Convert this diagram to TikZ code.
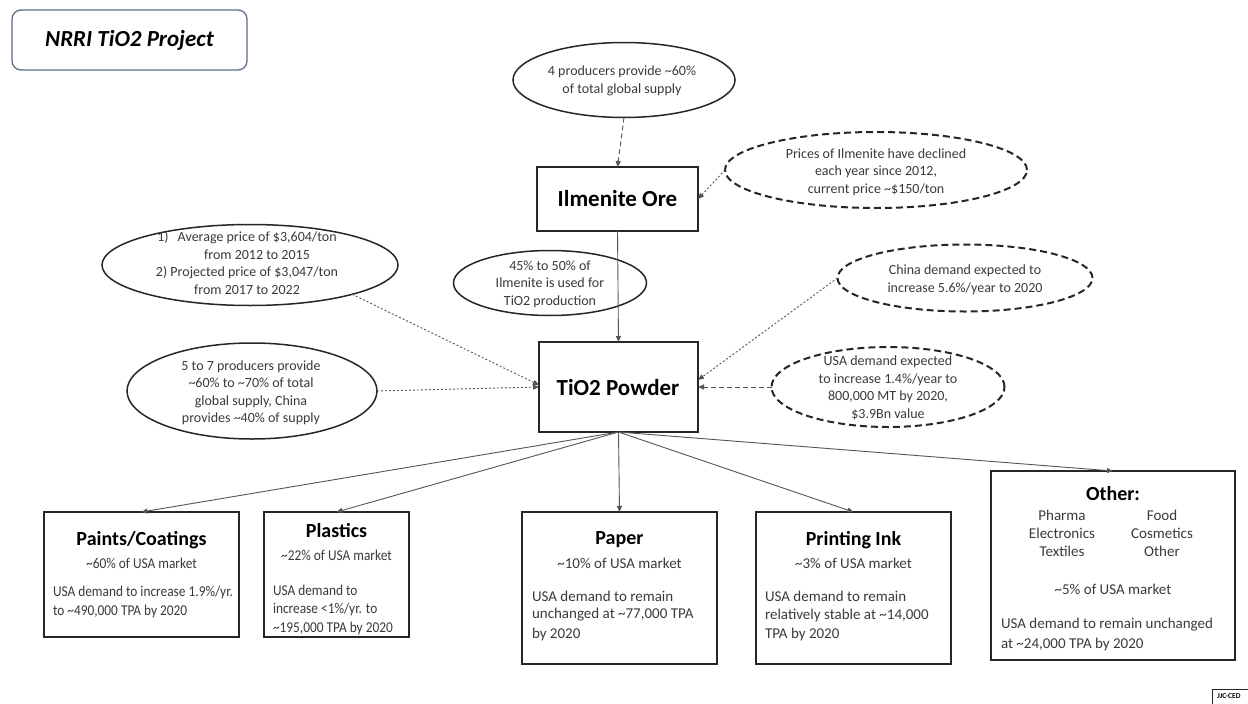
\documentclass[tikz,border=0pt]{standalone}
\usepackage{fontspec}
\setmainfont{Carlito}
\newfontfamily\condfont[FakeStretch=0.89]{Carlito}
\usetikzlibrary{shapes.geometric,arrows.meta}
\definecolor{ln}{HTML}{262626}
\definecolor{tx}{HTML}{3A3A3A}
\definecolor{cn}{HTML}{555555}
\definecolor{tb}{HTML}{5E6E88}
\begin{document}
\begin{tikzpicture}[x=1pt,y=-1pt,
 every node/.style={inner sep=0pt, outer sep=0pt},
 sm/.style={font=\fontsize{14}{17.5}\selectfont, text=tx, align=center},
 bt/.style={font=\fontsize{15}{19}\selectfont, text=tx, align=left, anchor=west},
 cbt/.style={font=\fontsize{15}{19}\condfont, text=tx, align=left, anchor=west},
 hd/.style={font=\fontsize{23}{27}\selectfont\bfseries, text=black},
 bxhd/.style={font=\fontsize{20}{24}\selectfont\bfseries, text=black},
 sub/.style={font=\fontsize{15}{18}\selectfont, text=tx},
 csub/.style={font=\fontsize{15}{18}\condfont, text=tx},
 oval/.style={ellipse, draw=ln, line width=1.5pt},
 dovl/.style={ellipse, draw=ln, line width=2pt, dash pattern=on 7pt off 4pt},
 box/.style={draw=ln, line width=1.6pt, anchor=north west},
 arr/.style={-{Triangle[length=6pt,width=5pt]}, draw=cn, line width=0.9pt},
 dashc/.style={arr, dash pattern=on 5pt off 3pt},
 dotc/.style={arr, dash pattern=on 2pt off 2pt},
]
\useasboundingbox (0,0) rectangle (1248,704);
\fill[white] (0,0) rectangle (1248,704);

% title
\node[draw=tb, line width=1.3pt, rounded corners=9pt, minimum width=235pt, minimum height=60pt, anchor=north west] (title) at (12,10) {};
\node[font=\fontsize{23}{27}\selectfont\bfseries\itshape] (titletxt) at (title) {NRRI TiO2 Project};

% central boxes
\node[box, minimum width=161pt, minimum height=64pt] (ore) at (537,167) {};
\node[hd] (oretxt) at (ore) {Ilmenite Ore};
\node[box, minimum width=159pt, minimum height=90pt] (tio) at (539,342) {};
\node[hd] (tiotxt) at (618,388) {TiO2 Powder};

% solid ellipses
\node[oval, minimum width=222pt, minimum height=75pt] (sup) at (624,80) {};
\node[sm] (suptxt) at (622,81) {4 producers provide \textasciitilde60\%\\of total global supply};

\node[oval, minimum width=193pt, minimum height=65pt] (ratio) at (550,283) {};
\node[sm] (ratiotxt) at (550,284) {45\% to 50\% of\\Ilmenite is used for\\TiO2 production};

\node[oval, minimum width=296pt, minimum height=81pt] (lt) at (250,265) {};
\node[sm] (lttxt) at (247,263) {1)\hspace{9pt}Average price of \$3,604/ton\\\hspace*{20pt}from 2012 to 2015\\2) Projected price of \$3,047/ton\\from 2017 to 2022};

\node[oval, minimum width=250pt, minimum height=96pt] (lb) at (252,391) {};
\node[sm] (lbtxt) at (251,393) {5 to 7 producers provide\\\textasciitilde60\% to \textasciitilde70\% of total\\global supply, China\\provides \textasciitilde40\% of supply};

% dashed ellipses
\node[dovl, minimum width=302pt, minimum height=76pt] (prices) at (876,170) {};
\node[sm] (pricestxt) at (876,172) {Prices of Ilmenite have declined\\each year since 2012,\\current price \textasciitilde\$150/ton};

\node[dovl, minimum width=255pt, minimum height=67pt] (china) at (965,278) {};
\node[sm] (chinatxt) at (965,280) {China demand expected to\\increase 5.6\%/year to 2020};

\node[dovl, minimum width=233pt, minimum height=80pt] (usa) at (888,387) {};
\node[sm] (usatxt) at (888,388) {USA demand expected\\to increase 1.4\%/year to\\800,000 MT by 2020,\\\$3.9Bn value};

% bottom boxes
\node[box, minimum width=195pt, minimum height=125pt] (paint) at (44,512) {};
\node[bxhd] (painth) at (141.5,540) {Paints/Coatings};
\node[csub] (paints) at (141.5,563) {\textasciitilde60\% of USA market};
\node[cbt] (paintb1) at (53,592) {USA demand to increase 1.9\%/yr.};
\node[cbt] (paintb2) at (53,611) {to \textasciitilde490,000 TPA by 2020};

\node[box, minimum width=145pt, minimum height=125pt] (plas) at (264,512) {};
\node[bxhd] (plash) at (336.5,531) {Plastics};
\node[csub] (plass) at (336.5,555) {\textasciitilde22\% of USA market};
\node[cbt] (plasb1) at (273,590) {USA demand to};
\node[cbt] (plasb2) at (273,609) {increase <1\%/yr. to};
\node[cbt] (plasb3) at (273,628) {\textasciitilde195,000 TPA by 2020};

\node[box, minimum width=195pt, minimum height=152pt] (paper) at (522,512) {};
\node[bxhd] (paperh) at (619.5,540) {Paper};
\node[sub] (papers) at (619.5,563) {\textasciitilde10\% of USA market};
\node[bt] (paperb1) at (532,596) {USA demand to remain};
\node[bt] (paperb2) at (532,615) {unchanged at \textasciitilde77,000 TPA};
\node[bt] (paperb3) at (532,634) {by 2020};

\node[box, minimum width=195pt, minimum height=152pt] (ink) at (756,512) {};
\node[bxhd] (inkh) at (853.5,540) {Printing Ink};
\node[sub] (inks) at (853.5,563) {\textasciitilde3\% of USA market};
\node[bt] (inkb1) at (765,596) {USA demand to remain};
\node[bt] (inkb2) at (765,615) {relatively stable at \textasciitilde14,000};
\node[bt] (inkb3) at (765,634) {TPA by 2020};

\node[box, minimum width=244pt, minimum height=189pt] (oth) at (991,471) {};
\node[bxhd] (othh) at (1113,494) {Other:};
\node[sub, align=center] (othc1) at (1062,533) {Pharma\\Electronics\\Textiles};
\node[sub, align=center] (othc2) at (1162,533) {Food\\Cosmetics\\Other};
\node[sub] (oths) at (1113,589) {\textasciitilde5\% of USA market};
\node[bt] (othb1) at (1001,625) {USA demand to remain unchanged};
\node[bt] (othb2) at (1001,644) {at \textasciitilde24,000 TPA by 2020};

% tag
\node[draw=ln, line width=1pt, minimum width=38pt, minimum height=19pt, anchor=north west] (tag) at (1212,689) {};
\node[font=\fontsize{7.5}{9}\selectfont\bfseries, text=black] (tagtxt) at (1229,696.5) {JJC-CED};

% connectors
\draw[dashc] (sup.south) -- (ore.north);
\draw[dotc] (prices.west) -- (ore.east);
\draw[arr] (ore.south) -- (tio.north);
\draw[dotc] (lt.-16) -- ([yshift=2pt]tio.west);
\draw[dotc] (lb.east) -- (tio.west);
\draw[dotc] (china.west) -- ([yshift=7pt]tio.east);
\draw[dashc] (usa.west) -- (tio.east);
\draw[arr] (tio.south) -- (paint.north);
\draw[arr] (tio.south) -- (plas.north);
\draw[arr] (tio.south) -- (paper.north);
\draw[arr] (tio.south) -- (ink.north);
\draw[arr] (tio.south) -- (oth.north);
\end{tikzpicture}
\end{document}
